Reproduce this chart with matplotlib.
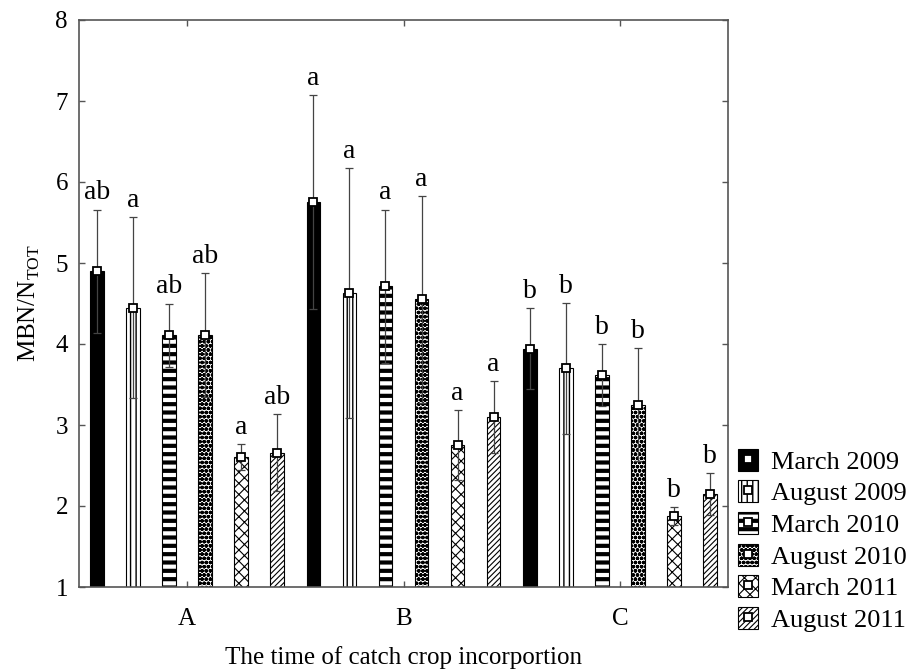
import matplotlib
matplotlib.use('Agg')
import matplotlib.pyplot as plt
import numpy as np
from matplotlib.patches import Patch, Rectangle
from matplotlib.lines import Line2D
from matplotlib.legend_handler import HandlerTuple

plt.rcParams['font.family'] = ['Liberation Serif', 'DejaVu Serif']
plt.rcParams['mathtext.fontset'] = 'custom'
plt.rcParams['mathtext.rm'] = 'Liberation Serif'

# dane
groups = ['A', 'B', 'C']
seasons = ['March 2009', 'August 2009', 'March 2010',
           'August 2010', 'March 2011', 'August 2011']
mean_A = [4.90, 4.45, 4.11, 4.11, 2.60, 2.66]
mean_B = [5.75, 4.63, 4.71, 4.55, 2.75, 3.10]
mean_C = [3.94, 3.70, 3.62, 3.25, 1.88, 2.15]
err_A = [0.76, 1.12, 0.39, 0.77, 0.16, 0.48]
err_B = [1.32, 1.54, 0.95, 1.28, 0.43, 0.44]
err_C = [0.50, 0.81, 0.38, 0.70, 0.11, 0.26]
let_A = ['ab', 'a', 'ab', 'ab', 'a', 'ab']
let_B = ['a', 'a', 'a', 'a', 'a', 'a']
let_C = ['b', 'b', 'b', 'b', 'b', 'b']

means = [mean_A, mean_B, mean_C]
errs = [err_A, err_B, err_C]
letters = [let_A, let_B, let_C]

# styl slupkow
hatches = ['', '|||', '--', 'oooo', 'xxx', '//////']
faces = ['black', 'white', 'white', 'white', 'white', 'white']
hlw = [1.0, 1.0, 3.0, 1.3, 0.8, 0.8]

fig = plt.figure(figsize=(9.09, 6.69), dpi=100)
ax = fig.add_axes([79/909, 82/669, 649/909, 567/669])

for s in range(len(seasons)):
    x = np.arange(len(groups))*6 + s
    y = [means[g][s] for g in range(len(groups))]
    e = [errs[g][s] for g in range(len(groups))]
    with plt.rc_context({'hatch.linewidth': hlw[s]}):
        ax.bar(x, y, width=0.38, color=faces[s], edgecolor='black',
               hatch=hatches[s], linewidth=0.8, zorder=2)
    ax.errorbar(x, y, yerr=e, fmt='none', ecolor='#444444', elinewidth=0.9,
                capsize=3, capthick=0.9, zorder=3)
    ax.plot(x, y, 's', ms=6, mfc='white', mec='black', mew=1.3, zorder=4)
    for g in range(len(groups)):
        ax.text(x[g], y[g] + e[g] + 0.05, letters[g][s], ha='center',
                va='bottom', fontsize=20)

ax.set_xlim(-0.5, 17.5)
ax.set_ylim(1, 8)
ax.set_xticks([2.5, 8.5, 14.5])
ax.set_xticklabels(groups)
ax.set_yticks(range(1, 9))
ax.tick_params(direction='in', top=True, right=True, length=4,
               width=1, color='#555555', labelsize=18, pad=8)
ax.tick_params(axis='x', pad=15)
for sp in ax.spines.values():
    sp.set_color('#555555')
    sp.set_linewidth(1.2)
ax.set_xlabel('The time of catch crop incorportion', fontsize=18, labelpad=12)
ax.set_ylabel(r'MBN/N$_\mathregular{TOT}$', fontsize=18, labelpad=10)

# legenda
handles = []
for s in range(len(seasons)):
    p = Patch(facecolor=faces[s], edgecolor='black', hatch=hatches[s],
              linewidth=0.8)
    m = Line2D([], [], marker='s', ms=6, mfc='white', mec='black',
               mew=1.3, ls='none')
    handles.append((p, m))
leg = fig.legend(handles, seasons, loc='upper left',
                 bbox_to_anchor=(0.800, 0.345),
                 frameon=False, fontsize=19, handlelength=0.75,
                 handleheight=0.9, handletextpad=0.5, labelspacing=0.25,
                 borderaxespad=0,
                 handler_map={tuple: HandlerTuple(ndivide=1, pad=0)})
# grubosc kreskowania w legendzie
rects = [a for a in leg.findobj(Rectangle) if a.get_hatch()]
for r in rects:
    h = r.get_hatch()
    if h in hatches and hasattr(r, 'set_hatch_linewidth'):
        r.set_hatch_linewidth(hlw[hatches.index(h)])

fig.savefig('out.png', dpi=100)
